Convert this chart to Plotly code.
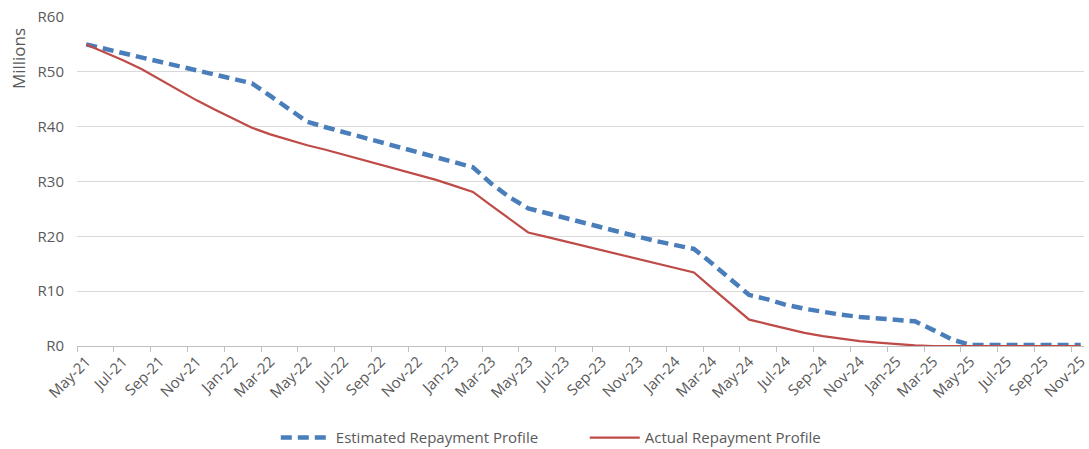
import plotly.graph_objects as go

months = [
    "May-21", "Jun-21", "Jul-21", "Aug-21", "Sep-21", "Oct-21", "Nov-21", "Dec-21",
    "Jan-22", "Feb-22", "Mar-22", "Apr-22", "May-22", "Jun-22", "Jul-22", "Aug-22",
    "Sep-22", "Oct-22", "Nov-22", "Dec-22", "Jan-23", "Feb-23", "Mar-23", "Apr-23",
    "May-23", "Jun-23", "Jul-23", "Aug-23", "Sep-23", "Oct-23", "Nov-23", "Dec-23",
    "Jan-24", "Feb-24", "Mar-24", "Apr-24", "May-24", "Jun-24", "Jul-24", "Aug-24",
    "Sep-24", "Oct-24", "Nov-24", "Dec-24", "Jan-25", "Feb-25", "Mar-25", "Apr-25",
    "May-25", "Jun-25", "Jul-25", "Aug-25", "Sep-25", "Oct-25", "Nov-25",
]

estimated = [
    55.0, 54.2, 53.5, 52.7, 51.9, 51.1, 50.3, 49.5, 48.7, 47.9,
    45.6, 43.2, 40.9, 39.9, 39.0, 38.1, 37.2, 36.3, 35.3, 34.4,
    33.5, 32.6, 29.6, 27.1, 25.1, 24.2, 23.3, 22.5, 21.6, 20.8,
    19.9, 19.1, 18.4, 17.7, 15.0, 12.2, 9.3, 8.5, 7.5, 6.8,
    6.2, 5.7, 5.3, 5.0, 4.8, 4.5, 2.9, 1.2, 0.2, 0.2,
    0.2, 0.2, 0.2, 0.2, 0.2,
]

actual = [
    55.0, 53.6, 52.1, 50.5, 48.6, 46.7, 44.8, 43.1, 41.4, 39.8,
    38.6, 37.6, 36.6, 35.8, 34.9, 34.0, 33.0, 32.1, 31.2, 30.3,
    29.2, 28.1, 25.6, 23.1, 20.7, 19.9, 19.1, 18.3, 17.5, 16.7,
    15.8, 15.0, 14.2, 13.4, 10.5, 7.6, 4.8, 4.0, 3.2, 2.4,
    1.8, 1.3, 0.9, 0.6, 0.3, 0.1, 0.0, 0.0, 0.0, 0.0,
    0.0, 0.0, 0.0, 0.0, 0.0,
]

y_ticks = [0, 10, 20, 30, 40, 50, 60]
y_labels = ["R0", "R10", "R20", "R30", "R40", "R50", "R60"]
x_ticks = months[::2]

FONT = "Open Sans"
GREY = "#595959"

fig = go.Figure()
fig.add_trace(go.Scatter(
    x=months, y=estimated, mode="lines", name="Estimated Repayment Profile",
    line=dict(color="#4A7EBB", width=4.5, dash="11px,6px"),
))
fig.add_trace(go.Scatter(
    x=months, y=actual, mode="lines", name="Actual Repayment Profile",
    line=dict(color="#BE4B48", width=2.2),
))

fig.update_layout(
    width=1089, height=449,
    margin=dict(l=77, r=0, t=17, b=103),
    paper_bgcolor="white", plot_bgcolor="white",
    font=dict(family=FONT, color=GREY, size=14),
    showlegend=True,
    legend=dict(
        orientation="h", xref="container", yref="container",
        x=0.537, y=0.025, xanchor="center", yanchor="middle",
        font=dict(size=15, color=GREY, family=FONT),
        itemwidth=50, entrywidth=244, entrywidthmode="pixels",
    ),
    xaxis=dict(
        type="category", categoryorder="array", categoryarray=months,
        range=[-0.5, 54.18],
        tickmode="array", tickvals=x_ticks, ticktext=x_ticks,
        tickson="boundaries", ticks="outside", ticklen=5, tickcolor="#BFBFBF",
        tickangle=-45, tickfont=dict(size=15, color=GREY, family=FONT),
        showline=True, linecolor="#BFBFBF", linewidth=1,
        showgrid=False, zeroline=False,
    ),
    yaxis=dict(
        range=[0, 60], tickmode="array", tickvals=y_ticks, ticktext=y_labels,
        tickfont=dict(size=15, color=GREY, family=FONT),
        showgrid=True, gridcolor="#D9D9D9", gridwidth=1,
        zeroline=False, showline=False, ticks="", ticklabelstandoff=12,
    ),
    annotations=[dict(
        text="Millions", textangle=-90, xref="paper", yref="paper",
        x=-0.058, y=1.0, xanchor="center", yanchor="top", yshift=-9,
        showarrow=False, font=dict(size=17, color=GREY, family=FONT),
    )],
)

fig.write_html("out.html")
